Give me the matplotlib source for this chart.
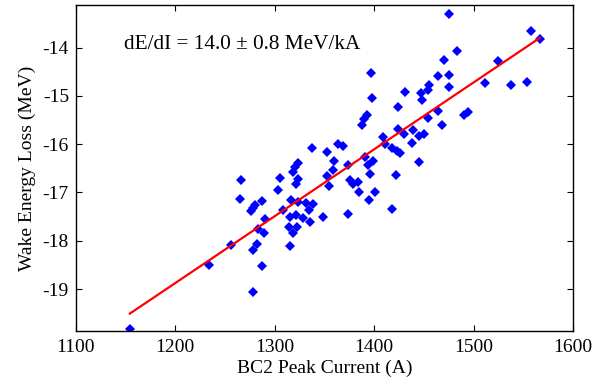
"""Wake energy loss vs BC2 peak current with linear fit."""
import matplotlib
matplotlib.use("Agg")
import matplotlib.pyplot as plt
import numpy as np

# BC2 peak current (A) and wake energy loss (MeV)
peak_current = [
    1475.5, 1557.7, 1566.8, 1483.0, 1470.2, 1524.2, 1397.3, 1464.5, 1474.9, 1474.9,
    1511.5, 1537.3, 1553.4, 1431.0, 1446.8, 1455.4, 1453.8, 1448.4, 1397.8, 1424.2,
    1464.5, 1453.8, 1490.3, 1494.7, 1467.9, 1393.0, 1389.7, 1387.4, 1424.2, 1430.0,
    1438.7, 1445.4, 1450.4, 1437.7, 1409.1, 1410.9, 1417.6, 1422.6, 1426.0, 1445.4,
    1399.1, 1394.1, 1395.8, 1390.7, 1368.3, 1363.9, 1373.9, 1421.9, 1375.6, 1379.2,
    1383.4, 1384.7, 1400.8, 1395.1, 1418.2, 1373.9, 1337.7, 1352.2, 1359.5, 1358.2,
    1323.6, 1320.3, 1318.6, 1266.0, 1305.2, 1323.6, 1321.3, 1352.2, 1354.8, 1302.9,
    1265.0, 1286.8, 1280.1, 1277.8, 1276.1, 1316.3, 1308.5, 1323.6, 1331.4, 1338.7,
    1334.7, 1290.1, 1315.3, 1321.3, 1328.7, 1335.4, 1348.8, 1283.4, 1289.1, 1314.3,
    1322.3, 1318.8, 1281.8, 1278.4, 1315.3, 1255.9, 1286.8, 1234.1, 1277.8, 1154.3,
]
wake_loss = [
    -13.30, -13.66, -13.83, -14.08, -14.25, -14.28, -14.53, -14.59, -14.56, -14.82,
    -14.73, -14.77, -14.71, -14.92, -14.94, -14.78, -14.88, -15.08, -15.04, -15.23,
    -15.31, -15.46, -15.40, -15.33, -15.61, -15.40, -15.47, -15.61, -15.68, -15.78,
    -15.70, -15.84, -15.80, -15.98, -15.86, -16.00, -16.07, -16.14, -16.19, -16.38,
    -16.35, -16.44, -16.61, -16.27, -16.04, -15.99, -16.44, -16.64, -16.75, -16.83,
    -16.79, -17.00, -16.99, -17.15, -17.35, -17.44, -16.09, -16.16, -16.35, -16.54,
    -16.39, -16.48, -16.58, -16.75, -16.70, -16.73, -16.82, -16.66, -16.87, -16.95,
    -17.13, -17.18, -17.27, -17.33, -17.38, -17.16, -17.37, -17.20, -17.22, -17.24,
    -17.37, -17.54, -17.51, -17.47, -17.53, -17.61, -17.51, -17.75, -17.84, -17.71,
    -17.71, -17.83, -18.06, -18.20, -18.11, -18.09, -18.52, -18.51, -19.07, -19.82,
]

# linear fit: loss = slope * current + intercept
fit_slope = 0.01384
fit_intercept = -35.483

x_ticks = [1100, 1200, 1300, 1400, 1500, 1600]
y_ticks = [-19, -18, -17, -16, -15, -14]

plt.rcParams["font.family"] = ["Liberation Serif", "DejaVu Serif"]
plt.rcParams["axes.unicode_minus"] = False

fig = plt.figure(figsize=(6.07, 3.85), dpi=100)
ax = fig.add_axes([0.125, 0.140, 0.819, 0.847])

ax.plot(peak_current, wake_loss, linestyle="none", marker="D", markersize=5.0,
        color="#0000ff", markeredgewidth=0)

fit_x = np.array([min(peak_current), max(peak_current)])
ax.plot(fit_x, fit_slope * fit_x + fit_intercept, color="#ff0000", linewidth=1.6)

ax.text(0.097, 0.88, "dE/dI = 14.0 ± 0.8 MeV/kA", transform=ax.transAxes,
        fontsize=15.3, va="center", ha="left")

ax.set_xlim(1100, 1600)
ax.set_ylim(-19.87, -13.12)
ax.set_xticks(x_ticks)
ax.set_yticks(y_ticks)
ax.tick_params(direction="in", length=4, width=0.8, top=True, right=True,
               labelsize=14, pad=6)
ax.tick_params(axis="y", pad=5)
ax.set_xlabel("BC2 Peak Current (A)", fontsize=14, labelpad=2)
ax.set_ylabel("Wake Energy Loss (MeV)", fontsize=14, labelpad=5)
for spine in ax.spines.values():
    spine.set_linewidth(1.0)

fig.savefig("out.png", dpi=100)
